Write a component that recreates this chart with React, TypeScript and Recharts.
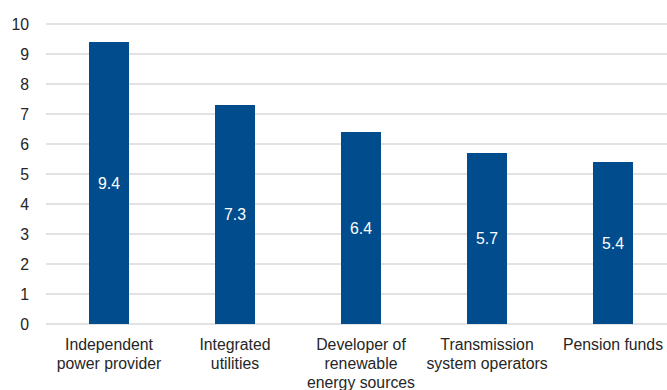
import React from "react";
import { BarChart, Bar, XAxis, YAxis, CartesianGrid, LabelList } from "recharts";

const categories = [
  "Independent\npower provider",
  "Integrated\nutilities",
  "Developer of\nrenewable\nenergy sources",
  "Transmission\nsystem operators",
  "Pension funds",
];
const scores = [9.4, 7.3, 6.4, 5.7, 5.4];
const yTicks = [0, 1, 2, 3, 4, 5, 6, 7, 8, 9, 10];

const data = categories.map((name, i) => ({ name, value: scores[i] }));

const FONT = "'Liberation Sans', Arial, sans-serif";

function CategoryTick({ x, y, payload }: any) {
  const lines = String(payload.value).split("\n");
  return (
    <text x={x} y={y} textAnchor="middle" fill="#262626" fontSize={15.8} fontFamily={FONT}>
      {lines.map((l, i) => (
        <tspan key={i} x={x} dy={i === 0 ? 18 : 19}>
          {l}
        </tspan>
      ))}
    </text>
  );
}

export default function App() {
  return (
    <div style={{ position: "absolute", left: 0, top: 0, width: 667, height: 390, overflow: "hidden", background: "#fff" }}>
      <BarChart width={676} height={390} data={data} margin={{ top: 24, right: 0, bottom: 0, left: 0 }}>
        <CartesianGrid vertical={false} stroke="#d9d9d9" strokeWidth={1.5} />
        <XAxis
          dataKey="name"
          axisLine={false}
          tickLine={false}
          height={66}
          interval={0}
          tick={<CategoryTick />}
        />
        <YAxis
          domain={[0, 10]}
          ticks={yTicks}
          width={46}
          axisLine={false}
          tickLine={false}
          tickSize={0}
          tickMargin={17}
          tick={{ fill: "#262626", fontSize: 15.8, fontFamily: FONT }}
        />
        <Bar dataKey="value" fill="#004c8c" barSize={40} isAnimationActive={false}>
          <LabelList dataKey="value" position="center" fill="#ffffff" fontSize={15.8} fontFamily={FONT} />
        </Bar>
      </BarChart>
    </div>
  );
}
